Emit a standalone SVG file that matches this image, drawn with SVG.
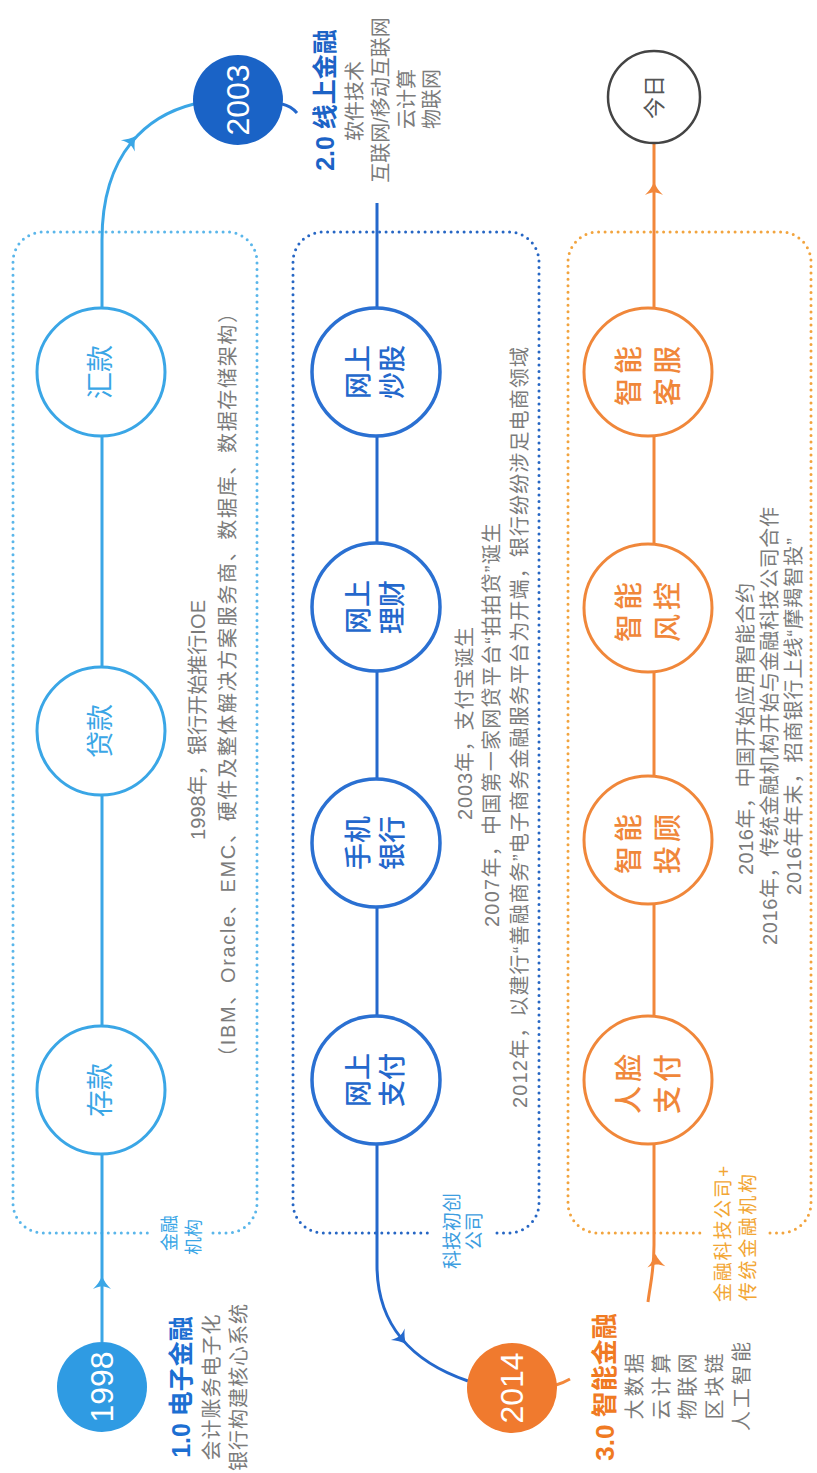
<svg xmlns="http://www.w3.org/2000/svg" width="817" height="1473" viewBox="0 0 817 1473">
<style>
text{font-family:"Liberation Sans","Noto Sans CJK SC",sans-serif;}
.r{text-anchor:middle;dominant-baseline:central;}
.s{text-anchor:start;dominant-baseline:central;}
.g{fill:#7b7b7b;font-size:20px;}
.box{fill:none;stroke-width:3;stroke-linecap:round;stroke-dasharray:0 6.5;}
.b1{stroke:#5ab6ea;}
.b2{stroke:#2666c4;}
.b3{stroke:#f2a43e;}
.l1{fill:none;stroke:#3aa6e6;stroke-width:3;}
.l2{fill:none;stroke:#2468cc;stroke-width:3;}
.l3{fill:none;stroke:#f2873a;stroke-width:3;}
.n1{fill:#fff;stroke:#3aa6e6;stroke-width:3;}
.n2{fill:#fff;stroke:#2a70d2;stroke-width:3.5;}
.n3{fill:#fff;stroke:#f0873a;stroke-width:3;}
.t1{fill:#3aa6e6;font-size:27px;}
.t2{fill:#2468cc;font-size:27px;font-weight:500;}
.t3{fill:#f0873a;font-size:28px;font-weight:500;letter-spacing:4px;}
.yr{fill:#fff;font-size:32px;}
.h1{fill:#1c6fd2;font-size:25px;font-weight:bold;}
.h2{fill:#1c63c6;font-size:25px;font-weight:bold;}
.h3{fill:#f07a22;font-size:26px;font-weight:bold;}
.sub{fill:#7b7b7b;font-size:20px;}
.it{fill:#7b7b7b;font-size:20px;letter-spacing:3px;}
</style>
<defs>
<path id="ah" d="M0,-8 C2,-3 5,1 9,5 C5,3 2,2.5 0,2.5 C-2,2.5 -5,3 -9,5 C-5,1 -2,-3 0,-8Z"/>
</defs>

<g id="boxes">
<path class="box b1" d="M213,1233 L227,1233 A30,30 0 0 0 257,1203 L257,262 A30,30 0 0 0 227,232 L43,232 A30,30 0 0 0 13,262 L13,1203 A30,30 0 0 0 43,1233 L148,1233"/>
<path class="box b2" d="M497,1233 L509,1233 A30,30 0 0 0 539,1203 L539,262 A30,30 0 0 0 509,232 L323,232 A30,30 0 0 0 293,262 L293,1203 A30,30 0 0 0 323,1233 L432,1233"/>
<path class="box b3" d="M770,1233 L781,1233 A30,30 0 0 0 811,1203 L811,262 A30,30 0 0 0 781,232 L598,232 A30,30 0 0 0 568,262 L568,1203 A30,30 0 0 0 598,1233 L700,1233"/>
</g>

<g id="connectors">
<path class="l1" d="M102,1342 L102,240 C102,150 150,115 194,104"/>
<path class="l2" d="M282,104 Q291,106 297,113"/>
<path class="l2" d="M377,203 L377,1265 C377,1325 412,1362 468,1381"/>
<path class="l3" d="M556,1385 Q563,1383 570,1379"/>
<path class="l3" d="M648,1302 C650,1285 654,1272 654,1245 L654,144"/>
<use href="#ah" fill="#3aa6e6" transform="translate(102,1284)"/>
<use href="#ah" fill="#3aa6e6" transform="translate(131,142) rotate(39)"/>
<use href="#ah" fill="#2468cc" transform="translate(401,1338) rotate(140)"/>
<use href="#ah" fill="#f2873a" transform="translate(656,1262) rotate(-4)"/>
<use href="#ah" fill="#f2873a" transform="translate(654,190)"/>
</g>

<g id="y1998">
<circle cx="102" cy="1387" r="45" fill="#2f9be3"/>
<text class="r yr" transform="translate(102,1387) rotate(-90)">1998</text>
</g>
<g id="y2003">
<circle cx="238" cy="100" r="45" fill="#1a63c6"/>
<text class="r yr" transform="translate(238,100) rotate(-90)">2003</text>
</g>
<g id="y2014">
<circle cx="512" cy="1388" r="45" fill="#f07a2e"/>
<text class="r yr" transform="translate(512,1388) rotate(-90)">2014</text>
</g>
<g id="today">
<circle cx="654" cy="97" r="46" fill="#fff" stroke="#444" stroke-width="2.5"/>
<text class="r" fill="#555" font-size="22" transform="translate(654,97) rotate(-90)">今日</text>
</g>

<g id="n-cunkuan"><circle class="n1" cx="101" cy="1090" r="64"/><text class="r t1" transform="translate(101,1090) rotate(-90)">存款</text></g>
<g id="n-daikuan"><circle class="n1" cx="101" cy="731" r="64"/><text class="r t1" transform="translate(101,731) rotate(-90)">贷款</text></g>
<g id="n-huikuan"><circle class="n1" cx="101" cy="372" r="64"/><text class="r t1" transform="translate(101,372) rotate(-90)">汇款</text></g>

<g id="n-wszf"><circle class="n2" cx="376" cy="1080" r="64"/><text class="r t2" transform="translate(359,1080) rotate(-90)">网上</text><text class="r t2" transform="translate(393,1080) rotate(-90)">支付</text></g>
<g id="n-sjyh"><circle class="n2" cx="376" cy="843" r="64"/><text class="r t2" transform="translate(359,843) rotate(-90)">手机</text><text class="r t2" transform="translate(393,843) rotate(-90)">银行</text></g>
<g id="n-wslc"><circle class="n2" cx="376" cy="607" r="64"/><text class="r t2" transform="translate(359,607) rotate(-90)">网上</text><text class="r t2" transform="translate(393,607) rotate(-90)">理财</text></g>
<g id="n-wscg"><circle class="n2" cx="376" cy="372" r="64"/><text class="r t2" transform="translate(359,372) rotate(-90)">网上</text><text class="r t2" transform="translate(393,372) rotate(-90)">炒股</text></g>

<g id="n-rlzf"><circle class="n3" cx="648" cy="1080" r="64"/><text class="r t3" transform="translate(629,1082) rotate(-90)">人脸</text><text class="r t3" transform="translate(668,1082) rotate(-90)">支付</text></g>
<g id="n-zntg"><circle class="n3" cx="648" cy="840" r="64"/><text class="r t3" transform="translate(629,842) rotate(-90)">智能</text><text class="r t3" transform="translate(668,842) rotate(-90)">投顾</text></g>
<g id="n-znfk"><circle class="n3" cx="648" cy="608" r="64"/><text class="r t3" transform="translate(629,610) rotate(-90)">智能</text><text class="r t3" transform="translate(668,610) rotate(-90)">风控</text></g>
<g id="n-znkf"><circle class="n3" cx="648" cy="372" r="64"/><text class="r t3" transform="translate(629,374) rotate(-90)">智能</text><text class="r t3" transform="translate(668,374) rotate(-90)">客服</text></g>

<g id="era1">
<text class="r h1" transform="translate(181,1387) rotate(-90)">1.0 电子金融</text>
<text class="r sub" transform="translate(212,1387) rotate(-90)" letter-spacing="1">会计账务电子化</text>
<text class="r sub" transform="translate(239,1387) rotate(-90)" letter-spacing="1">银行构建核心系统</text>
</g>
<g id="era2">
<text class="r h2" transform="translate(325,100) rotate(-90)">2.0 线上金融</text>
<text class="r sub" transform="translate(355,101) rotate(-90)">软件技术</text>
<text class="r sub" transform="translate(381,100) rotate(-90)">互联网/移动互联网</text>
<text class="r sub" transform="translate(407,99) rotate(-90)">云计算</text>
<text class="r sub" transform="translate(432,99) rotate(-90)">物联网</text>
</g>
<g id="era3">
<text class="r h3" transform="translate(605,1387) rotate(-90)">3.0 智能金融</text>
<text class="r it" transform="translate(635,1385) rotate(-90)">大数据</text>
<text class="r it" transform="translate(662,1385) rotate(-90)">云计算</text>
<text class="r it" transform="translate(688,1385) rotate(-90)">物联网</text>
<text class="r it" transform="translate(715,1385) rotate(-90)">区块链</text>
<text class="r it" transform="translate(742,1385) rotate(-90)">人工智能</text>
</g>

<g id="notes1">
<text class="s g" transform="translate(198,840) rotate(-90)" textLength="240" lengthAdjust="spacing">1998年，银行开始推行IOE</text>
<text class="s g" transform="translate(228,1067) rotate(-90)" textLength="764" lengthAdjust="spacing">（IBM、Oracle、EMC、硬件及整体解决方案服务商、数据库、数据存储架构）</text>
</g>
<g id="notes2">
<text class="s g" transform="translate(465,820) rotate(-90)" textLength="193" lengthAdjust="spacing">2003年，支付宝诞生</text>
<text class="s g" transform="translate(492,927) rotate(-90)" textLength="404" lengthAdjust="spacing">2007年，中国第一家网贷平台“拍拍贷”诞生</text>
<text class="s g" transform="translate(520,1108) rotate(-90)" textLength="761" lengthAdjust="spacing">2012年，以建行“善融商务”电子商务金融服务平台为开端，银行纷纷涉足电商领域</text>
</g>
<g id="notes3">
<text class="s g" transform="translate(746,875) rotate(-90)" textLength="292" lengthAdjust="spacing">2016年，中国开始应用智能合约</text>
<text class="s g" transform="translate(770,945) rotate(-90)" textLength="438" lengthAdjust="spacing">2016年，传统金融机构开始与金融科技公司合作</text>
<text class="s g" transform="translate(794,895) rotate(-90)" textLength="357" lengthAdjust="spacing">2016年年末，招商银行上线“摩羯智投”</text>
</g>

<g id="lbl1">
<text class="r" fill="#3aa6e6" font-size="18" transform="translate(170,1233) rotate(-90)">金融</text>
<text class="r" fill="#3aa6e6" font-size="18" transform="translate(194,1237) rotate(-90)">机构</text>
</g>
<g id="lbl2">
<text class="r" fill="#3d9de0" font-size="19" transform="translate(452,1231) rotate(-90)">科技初创</text>
<text class="r" fill="#3d9de0" font-size="19" transform="translate(474,1231) rotate(-90)">公司</text>
</g>
<g id="lbl3">
<text class="s" fill="#f2a634" font-size="19" transform="translate(723,1302) rotate(-90)" textLength="136" lengthAdjust="spacing">金融科技公司+</text>
<text class="s" fill="#f2a634" font-size="19" transform="translate(748,1301) rotate(-90)" textLength="127" lengthAdjust="spacing">传统金融机构</text>
</g>
</svg>
